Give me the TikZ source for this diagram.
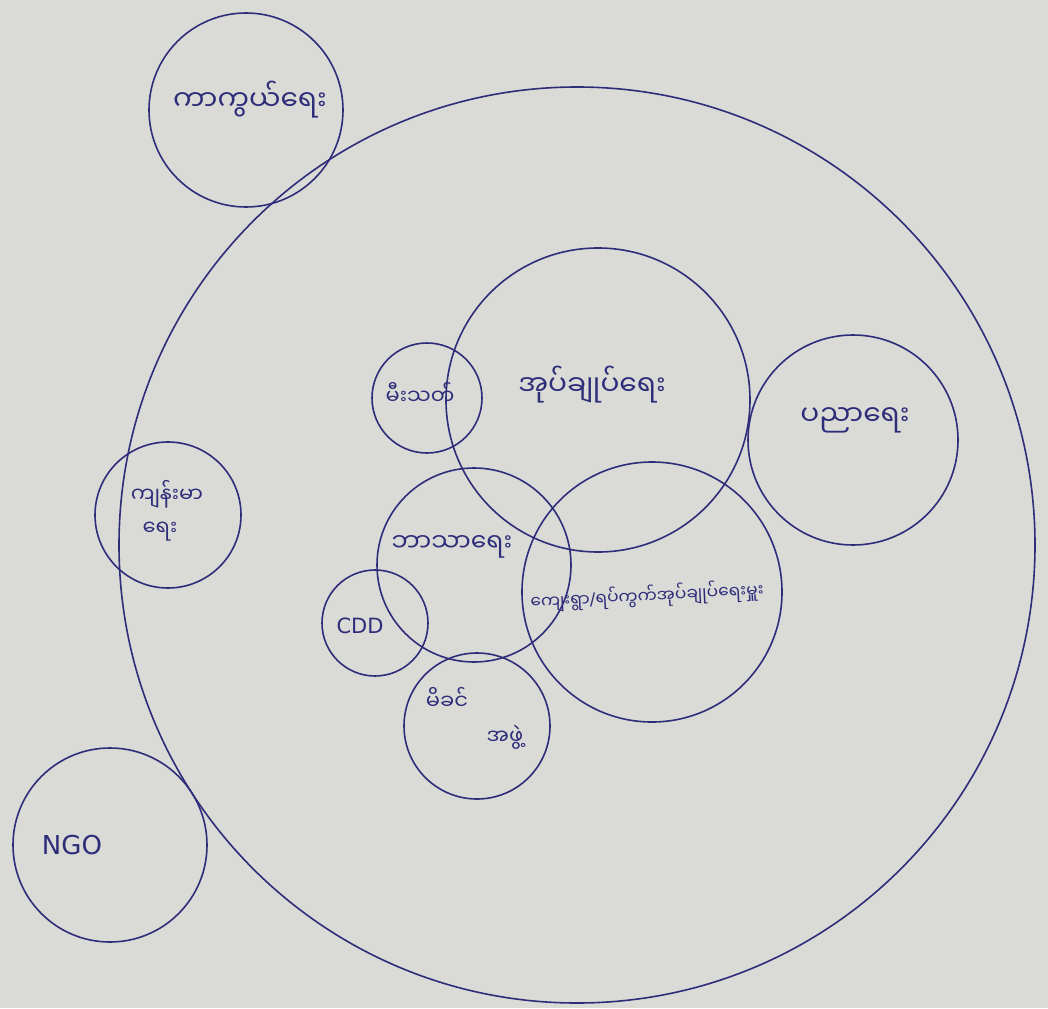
\documentclass[tikz,border=0pt]{standalone}
\usepackage{fontspec}
\newfontfamily\mmfont[Script=Myanmar]{Noto Sans Myanmar UI}
\setsansfont{DejaVu Sans}
\definecolor{pen}{HTML}{2E2D7A}
\definecolor{paper}{HTML}{DADAD6}
\begin{document}
\begin{tikzpicture}[x=1pt,y=-1pt,
  ring/.style={draw=pen,line width=1.6pt},
  lbl/.style={text=pen,font=\mmfont\fontsize{28}{32}\selectfont,inner sep=0pt},
  lblmd/.style={text=pen,font=\mmfont\fontsize{21}{25}\selectfont,inner sep=0pt},
  lblsm/.style={text=pen,font=\mmfont\fontsize{17}{20}\selectfont,inner sep=0pt},
  latin/.style={text=pen,font=\sffamily\fontsize{26}{30}\selectfont,inner sep=0pt}]
\fill[paper] (0,0) rectangle (1048,1008);
\useasboundingbox (0,0) rectangle (1048,1008);
% circles
\node[ring,circle,minimum size=916pt,inner sep=0pt] (big) at (577,545) {};
\node[ring,circle,minimum size=194pt,inner sep=0pt] (defc) at (246,110) {};
\node[ring,circle,minimum size=304pt,inner sep=0pt] (admc) at (598,400) {};
\node[ring,circle,minimum size=210pt,inner sep=0pt] (educ) at (853,440) {};
\node[ring,circle,minimum size=110pt,inner sep=0pt] (firec) at (427,398) {};
\node[ring,circle,minimum size=146pt,inner sep=0pt] (healc) at (168,515) {};
\node[ring,circle,minimum size=194pt,inner sep=0pt] (relc) at (474,565) {};
\node[ring,circle,minimum size=260pt,inner sep=0pt] (vilc) at (652,592) {};
\node[ring,circle,minimum size=106pt,inner sep=0pt] (cddc) at (375,623) {};
\node[ring,circle,minimum size=146pt,inner sep=0pt] (momc) at (477,726) {};
\node[ring,circle,minimum size=194pt,inner sep=0pt] (ngoc) at (110,845) {};
% labels
\node[lbl] (deft) at (250,100) {ကာကွယ်ရေး};
\node[lbl] (admt) at (592,385) {အုပ်ချုပ်ရေး};
\node[lbl] (edut) at (855,420) {ပညာရေး};
\node[lblmd] (firet) at (420,393) {မီးသတ်};
\node[lblmd] (healt1) at (167,494) {ကျန်းမာ};
\node[lblmd] (healt2) at (160,532) {ရေး};
\node[lbl,font=\mmfont\fontsize{25}{30}\selectfont] (relt) at (452,547) {ဘာသာရေး};
\node[lblsm,rotate=3] (vilt) at (647,596) {ကျေးရွာ{\sffamily\fontsize{17}{20}\selectfont/}ရပ်ကွက်အုပ်ချုပ်ရေးမှူး};
\node[latin,font=\sffamily\fontsize{21}{25}\selectfont] (cddt) at (360,626) {CDD};
\node[lblmd] (momt1) at (447,698) {မိခင်};
\node[lblmd] (momt2) at (505,737) {အဖွဲ့};
\node[latin] (ngot) at (72,845) {NGO};
\end{tikzpicture}
\end{document}
